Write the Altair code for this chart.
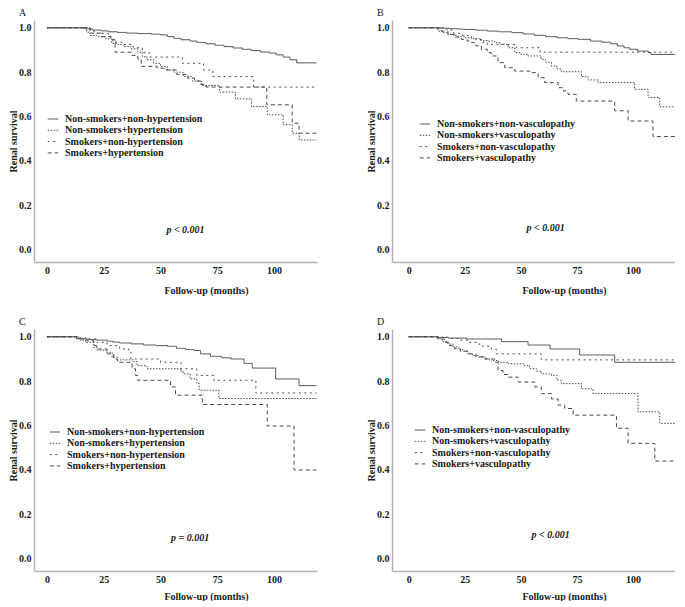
import altair as alt
import pandas as pd

FONT = "Liberation Serif"
LINE_COLOR = "#4a4a4a"
TEXT_COLOR = "#1a1a1a"

# ---------------- data ----------------
hyp_labels = ["Non-smokers+non-hypertension", "Non-smokers+hypertension",
              "Smokers+non-hypertension", "Smokers+hypertension"]
vas_labels = ["Non-smokers+non-vasculopathy", "Non-smokers+vasculopathy",
              "Smokers+non-vasculopathy", "Smokers+vasculopathy"]

x_ticks = [0, 25, 50, 75, 100]
y_ticks = [0.0, 0.2, 0.4, 0.6, 0.8, 1.0]
T_END = 118.7

# Panel A
a1_t = [0, 17, 20, 24, 27, 31, 35, 40, 46, 50, 53, 56, 59, 63, 66, 70, 74, 78, 82, 86, 90, 94, 98, 101, 104, 107, 110, T_END]
a1_s = [1.0, 0.995, 0.99, 0.986, 0.982, 0.979, 0.976, 0.974, 0.971, 0.968, 0.96, 0.952, 0.946, 0.94, 0.934, 0.928, 0.921, 0.915, 0.909, 0.903, 0.897, 0.891, 0.886, 0.878, 0.868, 0.856, 0.842, 0.842]
a2_t = [0, 17.5, 19, 22, 26, 28.5, 31, 34, 37, 40, 42, 44, 47, 50, 53, 56, 60, 64, 68, 76, 83, 90, 97, 104, 108, 111, T_END]
a2_s = [1.0, 0.98, 0.965, 0.96, 0.95, 0.93, 0.925, 0.916, 0.905, 0.89, 0.87, 0.856, 0.84, 0.825, 0.81, 0.80, 0.78, 0.76, 0.74, 0.71, 0.68, 0.645, 0.608, 0.563, 0.525, 0.495, 0.495]
a3_t = [0, 19, 22, 27, 29, 34, 38, 42, 45, 59.6, 69, 73, 91, T_END]
a3_s = [1.0, 0.985, 0.975, 0.96, 0.935, 0.925, 0.91, 0.89, 0.868, 0.84, 0.81, 0.78, 0.733, 0.733]
a4_t = [0, 19, 24, 28, 30, 37.5, 40, 41.5, 48.5, 52, 57, 62, 65, 67.6, 70, 96.8, 108, 111, T_END]
a4_s = [1.0, 0.976, 0.96, 0.946, 0.89, 0.875, 0.86, 0.826, 0.818, 0.81, 0.79, 0.773, 0.76, 0.745, 0.733, 0.653, 0.57, 0.525, 0.525]

# Panel B
b1_t = [0, 13, 18, 22, 25, 30, 35, 40, 46, 51, 56, 61, 66, 71, 75.5, 81, 86, 90, 93, 96, 98.5, 102, 106.7, 108, T_END]
b1_s = [1.0, 0.998, 0.996, 0.994, 0.992, 0.989, 0.985, 0.982, 0.978, 0.972, 0.966, 0.96, 0.955, 0.951, 0.948, 0.94, 0.935, 0.928, 0.918, 0.91, 0.903, 0.895, 0.888, 0.88, 0.88]
b2_t = [0, 13, 15, 17.5, 21, 25, 29, 32.4, 35, 38.3, 41, 44.3, 47.3, 50, 53, 59, 61, 63.6, 66, 68, 77, 80, 84.4, 100.7, 106.7, 111.9, T_END]
b2_s = [1.0, 0.985, 0.978, 0.97, 0.962, 0.955, 0.95, 0.943, 0.94, 0.933, 0.925, 0.91, 0.888, 0.88, 0.873, 0.858, 0.845, 0.828, 0.815, 0.802, 0.78, 0.765, 0.753, 0.723, 0.686, 0.644, 0.644]
b3_t = [0, 17, 20, 24, 28, 32, 35, 48, 58.5, T_END]
b3_s = [1.0, 0.99, 0.975, 0.965, 0.95, 0.935, 0.925, 0.91, 0.89, 0.89]
b4_t = [0, 14.6, 17.5, 20, 23.5, 26, 27.9, 30, 32.4, 35, 36.8, 39.8, 42.8, 47.3, 54, 57.7, 60.6, 66.6, 69, 71, 74.7, 91.8, 97.8, 108.9, T_END]
b4_s = [1.0, 0.985, 0.97, 0.958, 0.948, 0.94, 0.933, 0.918, 0.903, 0.888, 0.873, 0.843, 0.82, 0.805, 0.798, 0.775, 0.753, 0.73, 0.715, 0.70, 0.67, 0.626, 0.58, 0.51, 0.51]

# Panel C
c1_t = [0, 13, 16, 19, 22, 26.5, 29, 32, 37, 42.6, 48, 53, 57, 61, 64.7, 67.6, 72, 77, 81, 86.8, 90.4, 100.7, 111, T_END]
c1_s = [1.0, 0.993, 0.99, 0.987, 0.985, 0.98, 0.976, 0.972, 0.968, 0.963, 0.96, 0.957, 0.948, 0.943, 0.938, 0.923, 0.912, 0.905, 0.9, 0.88, 0.859, 0.81, 0.78, 0.78]
c2_t = [0, 14, 17, 20.6, 22, 26, 28.7, 31, 38, 39.7, 44, 58.8, 60, 63, 66, 67, 75.7, T_END]
c2_s = [1.0, 0.985, 0.975, 0.952, 0.94, 0.93, 0.908, 0.896, 0.888, 0.87, 0.856, 0.845, 0.833, 0.81, 0.789, 0.759, 0.722, 0.722]
c3_t = [0, 14, 17.6, 22, 26.5, 32, 36, 37, 50, 59, 66, 73.5, 92, T_END]
c3_s = [1.0, 0.995, 0.99, 0.975, 0.96, 0.945, 0.93, 0.9, 0.885, 0.856, 0.826, 0.804, 0.747, 0.747]
c4_t = [0, 13, 17.6, 20.6, 22, 26.5, 29.4, 31, 37.5, 39, 40, 54.4, 56.6, 68.4, 97, 108.8, T_END]
c4_s = [1.0, 0.99, 0.982, 0.96, 0.945, 0.923, 0.9, 0.885, 0.856, 0.826, 0.804, 0.774, 0.737, 0.695, 0.598, 0.40, 0.40]

# Panel D
d1_t = [0, 13, 17.5, 25.7, 41.3, 53.2, 63, 76.2, 91.8, T_END]
d1_s = [1.0, 0.997, 0.994, 0.99, 0.978, 0.963, 0.945, 0.918, 0.885, 0.885]
d2_t = [0, 13, 15, 17.5, 20, 22, 24, 26.4, 28.5, 30.9, 34, 36.8, 40, 44.3, 51.7, 53.9, 57, 59.1, 63.6, 66, 68, 77, 82.2, 102.2, 111.9, T_END]
d2_s = [1.0, 0.99, 0.978, 0.967, 0.955, 0.945, 0.935, 0.923, 0.915, 0.908, 0.9, 0.893, 0.885, 0.878, 0.87, 0.856, 0.845, 0.833, 0.826, 0.805, 0.789, 0.766, 0.744, 0.662, 0.61, 0.61]
d3_t = [0, 14, 17.5, 22, 26.4, 30.9, 33, 36.8, 39, 59.1, T_END]
d3_s = [1.0, 0.998, 0.993, 0.985, 0.975, 0.967, 0.957, 0.945, 0.923, 0.896, 0.896]
d4_t = [0, 13, 16, 18, 20.5, 23, 26.4, 30, 33.9, 38.3, 39.8, 42, 44.3, 48.7, 56.2, 59.1, 63.6, 66.6, 69.5, 73.3, 92.6, 97.8, 109.7, T_END]
d4_s = [1.0, 0.99, 0.975, 0.96, 0.945, 0.935, 0.923, 0.91, 0.9, 0.885, 0.848, 0.83, 0.818, 0.796, 0.774, 0.744, 0.72, 0.692, 0.677, 0.647, 0.588, 0.52, 0.44, 0.44]

p_texts = ["p < 0.001", "p < 0.001", "p = 0.001", "p < 0.001"]
p_x = [61, 61, 63, 63.3]
p_y = [0.09, 0.096, 0.092, 0.106]

DASHES = [[1, 0], [1.5, 1.5], [2, 3.5], [4, 3]]
PW = 283
X_DOM_LEFT = [-5.7, 118.9]    # A, C
X_DOM_RIGHT = [-7.45, 118.7]  # B, D


def panel(letter, labels, series, ptext, px, py, lx, ly, xdom, ph, xtp):
    rows = []
    for lab, (t, s) in zip(labels, series):
        for ti, si in zip(t, s):
            rows.append({"t": ti, "s": si, "g": lab})
    df = pd.DataFrame(rows)
    xs = alt.Scale(domain=xdom, nice=False, zero=False)
    ys = alt.Scale(domain=[-0.055, 1.035], nice=False, zero=False)
    x_axis = alt.Axis(values=x_ticks, title="Follow-up (months)", titleX=172,
                      labelPadding=3, titlePadding=xtp)
    y_axis = alt.Axis(values=y_ticks, format=".1f", title="Renal survival",
                      labelPadding=3, titlePadding=0)
    lines = alt.Chart(df).mark_line(
        interpolate="step-after", color=LINE_COLOR, strokeWidth=1, clip=True
    ).encode(
        x=alt.X("t:Q", scale=xs, axis=x_axis),
        y=alt.Y("s:Q", scale=ys, axis=y_axis),
        strokeDash=alt.StrokeDash(
            "g:N", sort=labels,
            scale=alt.Scale(domain=labels, range=DASHES),
            legend=alt.Legend(title=None, orient="none", legendX=lx, legendY=ly,
                              symbolType="stroke", symbolSize=110,
                              symbolStrokeColor=LINE_COLOR, symbolStrokeWidth=1,
                              labelOffset=6, rowPadding=0.3, padding=0,
                              labelFont=FONT, labelFontSize=10,
                              labelFontWeight="bold", labelColor=TEXT_COLOR,
                              labelLimit=300),
        ),
    )
    pdf = pd.DataFrame({"t": [px], "s": [py], "label": [ptext]})
    ptxt = alt.Chart(pdf).mark_text(
        font=FONT, fontSize=10, fontWeight="bold", fontStyle="italic",
        color=TEXT_COLOR, align="center", baseline="middle"
    ).encode(
        x=alt.X("t:Q", scale=xs, title="Follow-up (months)"),
        y=alt.Y("s:Q", scale=ys, title="Renal survival"),
        text="label:N",
    )
    return alt.layer(lines, ptxt).properties(
        width=PW, height=ph,
        title=alt.TitleParams(letter, anchor="start", frame="group", dx=-15,
                              offset=2, fontSize=10, font=FONT,
                              fontWeight="normal", color=TEXT_COLOR),
    )


pa = panel("A", hyp_labels, [(a1_t, a1_s), (a2_t, a2_s), (a3_t, a3_s), (a4_t, a4_s)],
           p_texts[0], p_x[0], p_y[0], 13, 93, X_DOM_LEFT, 242, 10)
pb = panel("B", vas_labels, [(b1_t, b1_s), (b2_t, b2_s), (b3_t, b3_s), (b4_t, b4_s)],
           p_texts[1], p_x[1], p_y[1], 27, 98, X_DOM_RIGHT, 242, 10)
pc = panel("C", hyp_labels, [(c1_t, c1_s), (c2_t, c2_s), (c3_t, c3_s), (c4_t, c4_s)],
           p_texts[2], p_x[2], p_y[2], 15, 97, X_DOM_LEFT, 242, 7)
pd_ = panel("D", vas_labels, [(d1_t, d1_s), (d2_t, d2_s), (d3_t, d3_s), (d4_t, d4_s)],
            p_texts[3], p_x[3], p_y[3], 22, 95, X_DOM_RIGHT, 242, 7)

chart = alt.concat(pa, pb, pc, pd_, columns=2, spacing={"column": 49, "row": 22}).resolve_scale(
    x="independent", y="independent", strokeDash="independent"
).resolve_legend(strokeDash="independent").properties(
    padding=0
).configure(
    background="white"
).configure_view(stroke=None).configure_axis(
    grid=False, ticks=False, tickSize=0,
    domainColor="#b4b4b4", domainWidth=1.5,
    labelFont=FONT, labelFontSize=10, labelFontWeight="bold", labelColor=TEXT_COLOR,
    titleFont=FONT, titleFontSize=10, titleFontWeight="bold", titleColor=TEXT_COLOR,
)

chart.save("out.html", embed_options={"renderer": "svg", "actions": False})
